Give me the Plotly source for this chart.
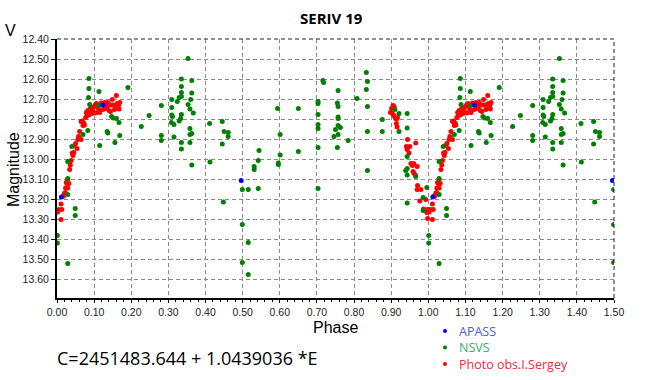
import plotly.graph_objects as go

# ---------------- data (phase in [0,1), folded copy for phase < 0.5 added below) -------------
apass_phase = [0.012, 0.124, 0.496]
apass_mag = [13.19, 12.73, 13.107]

nsvs_phase = [
    0.086, 0.086, 0.113, 0.191, 0.085, 0.088, 0.113, 0.147, 0.151, 0.160,
    0.167, 0.070, 0.083, 0.135, 0.137, 0.169, 0.156, 0.115, 0.040, 0.029,
    0.029, 0.029, 0.049, 0.049, 0.001, 0.001, 0.029, 0.227, 0.248, 0.281,
    0.281, 0.281, 0.353, 0.335, 0.363, 0.335, 0.335, 0.363, 0.309, 0.324,
    0.329, 0.335, 0.360, 0.353, 0.309, 0.358, 0.309, 0.311, 0.335, 0.367,
    0.333, 0.329, 0.308, 0.315, 0.358, 0.363, 0.358, 0.315, 0.335, 0.358,
    0.335, 0.363, 0.411, 0.445, 0.450, 0.461, 0.461, 0.445, 0.412, 0.448,
    0.499, 0.515, 0.542, 0.544, 0.542, 0.531, 0.531, 0.499, 0.515, 0.499,
    0.515, 0.594, 0.601, 0.601, 0.596, 0.596, 0.650, 0.650, 0.703, 0.703,
    0.703, 0.703, 0.703, 0.703, 0.703, 0.716, 0.718, 0.757, 0.755, 0.757,
    0.757, 0.757, 0.757, 0.763, 0.750, 0.757, 0.746, 0.755, 0.784, 0.808,
    0.833, 0.836, 0.833, 0.836, 0.836, 0.836, 0.876, 0.876, 0.910, 0.921,
    0.921, 0.943, 0.943, 0.943, 0.943, 0.939, 0.943, 0.966, 0.943, 0.986,
    0.996, 0.986,
]
nsvs_mag = [
    12.597, 12.648, 12.662, 12.642, 12.692, 12.727, 12.733, 12.788, 12.795, 12.798,
    12.817, 12.877, 12.857, 12.863, 12.870, 12.883, 12.917, 12.933, 12.937, 13.013,
    13.097, 13.177, 13.247, 13.282, 13.383, 13.420, 13.522, 12.837, 12.783, 12.732,
    12.883, 12.907, 12.497, 12.600, 12.607, 12.637, 12.667, 12.670, 12.703, 12.713,
    12.693, 12.687, 12.703, 12.727, 12.743, 12.750, 12.780, 12.787, 12.777, 12.770,
    12.797, 12.810, 12.817, 12.827, 12.847, 12.873, 12.877, 12.890, 12.917, 12.917,
    12.950, 13.030, 12.822, 12.812, 12.862, 12.868, 12.888, 12.925, 13.015, 13.215,
    13.152, 13.152, 13.148, 12.957, 13.007, 13.037, 13.053, 13.327, 13.417, 13.517,
    13.577, 12.748, 12.877, 12.980, 13.020, 13.027, 12.748, 12.962, 12.713, 12.723,
    12.778, 12.827, 12.847, 12.942, 13.148, 12.607, 12.617, 12.658, 12.720, 12.737,
    12.790, 12.798, 12.832, 12.843, 12.852, 12.878, 12.888, 12.942, 12.907, 12.698,
    12.567, 12.612, 12.652, 12.737, 12.862, 13.057, 12.803, 12.863, 12.753, 12.773,
    12.862, 12.773, 12.845, 12.987, 13.047, 13.057, 13.080, 13.087, 13.220, 13.193,
    13.143, 13.257,
]

photo_phase = [
    0.011, 0.005, 0.013, 0.011, 0.018, 0.022, 0.020, 0.016, 0.023, 0.029,
    0.032, 0.025, 0.029, 0.027, 0.034, 0.036, 0.038, 0.043, 0.045, 0.041,
    0.047, 0.050, 0.054, 0.056, 0.061, 0.065, 0.058, 0.061, 0.065, 0.068,
    0.072, 0.074, 0.070, 0.077, 0.079, 0.083, 0.085, 0.088, 0.086, 0.092,
    0.094, 0.097, 0.081, 0.090, 0.099, 0.104, 0.110, 0.103, 0.106, 0.112,
    0.115, 0.119, 0.122, 0.124, 0.128, 0.131, 0.131, 0.137, 0.140, 0.144,
    0.146, 0.149, 0.151, 0.155, 0.157, 0.160, 0.162, 0.166, 0.167, 0.169,
    0.135, 0.002,
    0.905, 0.908, 0.901, 0.898, 0.903, 0.907, 0.910, 0.914, 0.917, 0.914,
    0.916, 0.944, 0.966, 0.941, 0.944, 0.950, 0.943, 0.948, 0.953, 0.961,
    0.957, 0.970, 0.959, 0.962, 0.966, 0.971, 0.970, 0.980, 0.977, 0.993,
    0.987, 0.998, 0.996, 0.998,
]
photo_mag = [
    13.225, 13.253, 13.253, 13.302, 13.183, 13.167, 13.173, 13.187, 13.145, 13.145,
    13.123, 13.117, 13.103, 13.123, 13.053, 13.030, 13.007, 12.983, 12.967, 12.970,
    12.933, 12.923, 12.947, 12.903, 12.897, 12.903, 12.887, 12.863, 12.813, 12.810,
    12.820, 12.830, 12.833, 12.793, 12.767, 12.757, 12.773, 12.763, 12.780, 12.757,
    12.773, 12.763, 12.783, 12.747, 12.740, 12.770, 12.737, 12.730, 12.723, 12.753,
    12.767, 12.720, 12.730, 12.753, 12.717, 12.723, 12.747, 12.717, 12.757, 12.763,
    12.730, 12.703, 12.730, 12.753, 12.733, 12.683, 12.723, 12.730, 12.750, 12.717,
    12.740, 13.265,
    12.733, 12.740, 12.747, 12.767, 12.773, 12.783, 12.790, 12.800, 12.793, 12.823,
    12.840, 12.903, 12.920, 12.937, 12.943, 12.937, 12.953, 12.970, 13.023, 13.023,
    13.033, 13.037, 13.063, 13.073, 13.083, 13.133, 13.153, 13.153, 13.210, 13.203,
    13.250, 13.253, 13.267, 13.298,
]

series_names = ["APASS", "NSVS", "Photo obs.I.Sergey"]
series_marker_colors = ["#0000ff", "#008000", "#ff0000"]
series_text_colors = ["#4b5de0", "#34b061", "#ee2a3c"]

y_tick_vals = [12.4, 12.5, 12.6, 12.7, 12.8, 12.9, 13.0, 13.1, 13.2, 13.3, 13.4, 13.5, 13.6]
y_tick_text = ["%.2f" % v for v in y_tick_vals]
x_tick_vals = [i / 10 for i in range(16)]
x_tick_text = ["%.2f" % v for v in x_tick_vals]


def fold(ph, mg):
    xs = list(ph) + [p + 1 for p in ph if p < 0.5]
    ys = list(mg) + [m for p, m in zip(ph, mg) if p < 0.5]
    return xs, ys


fig = go.Figure()
data_sets = {
    "APASS": (apass_phase, apass_mag),
    "NSVS": (nsvs_phase, nsvs_mag),
    "Photo obs.I.Sergey": (photo_phase, photo_mag),
}
# draw red first, then green, then blue on top
for i in [2, 1, 0]:
    name = series_names[i]
    ph, mg = data_sets[name]
    xs, ys = fold(ph, mg)
    fig.add_trace(go.Scatter(x=xs, y=ys, mode="markers", name=name, showlegend=False,
                             marker=dict(color=series_marker_colors[i], size=5, symbol="circle",
                                         line=dict(width=0))))

W, H = 648, 380
L, R, T, B = 57, 34, 39, 82
pw, ph_ = W - L - R, H - T - B


def px(x):
    return (x - L) / pw


def py(y):
    return (H - B - y) / ph_


grid_col = "#8a8a8a"
fig.update_layout(
    width=W, height=H,
    margin=dict(l=L, r=R, t=T, b=B, pad=0, autoexpand=False),
    paper_bgcolor="white", plot_bgcolor="white",
    showlegend=False,
    font=dict(family="Liberation Sans", size=11, color="#222"),
)
fig.update_xaxes(
    range=[0, 1.5], tickvals=x_tick_vals, ticktext=x_tick_text,
    showgrid=True, gridcolor=grid_col, griddash="4px,3px", gridwidth=1,
    showline=True, linecolor="black", linewidth=2,
    ticks="outside", ticklen=3, tickcolor="black", tickwidth=1,
    tickfont=dict(family="Liberation Sans", size=10.5, color="#222"),
    minor=dict(dtick=0.02, tick0=0, ticks="outside", ticklen=2, tickcolor="black", showgrid=False),
    zeroline=False, fixedrange=True, automargin=False,
)
fig.update_yaxes(
    range=[13.695, 12.4], tickvals=y_tick_vals, ticktext=y_tick_text,
    showgrid=True, gridcolor=grid_col, griddash="4px,3px", gridwidth=1,
    showline=True, linecolor="black", linewidth=2,
    ticks="outside", ticklen=4, tickcolor="black", tickwidth=1,
    tickfont=dict(family="Liberation Sans", size=10.5, color="#222"),
    zeroline=False, fixedrange=True, automargin=False,
)
# dashed top/right frame
fig.add_shape(type="line", xref="paper", yref="paper", x0=0, x1=1, y0=1, y1=1,
              line=dict(color="#222", width=1, dash="4px,3px"))
fig.add_shape(type="line", xref="paper", yref="paper", x0=1, x1=1, y0=0, y1=1,
              line=dict(color="#222", width=1, dash="4px,3px"))

ann = [
    dict(text="<b>SERIV 19</b>", x=px(331), y=py(18), font=dict(family="Open Sans", size=15, color="black")),
    dict(text="V", x=px(11), y=py(30), font=dict(family="Liberation Sans", size=16, color="black")),
    dict(text="Magnitude", x=px(13), y=py(170), textangle=-90,
         font=dict(family="Liberation Sans", size=16, color="black")),
    dict(text="Phase", x=px(335), y=py(327), font=dict(family="Liberation Sans", size=16, color="black")),
]
for a in ann:
    fig.add_annotation(xref="paper", yref="paper", showarrow=False, xanchor="center",
                       yanchor="middle", **a)
fig.add_annotation(xref="paper", yref="paper", showarrow=False, xanchor="left", yanchor="middle",
                   text="C=2451483.644 + 1.0439036 *E", x=px(55), y=py(358),
                   font=dict(family="Open Sans", size=18, color="black"))

# manual legend (swatch + coloured text)
leg_rows = [331, 347.5, 364]
for i, yrow in enumerate(leg_rows):
    fig.add_shape(type="circle", xref="paper", yref="paper",
                  x0=px(443), x1=px(447), y0=py(yrow + 2), y1=py(yrow - 2),
                  fillcolor=series_marker_colors[i], line=dict(width=0))
    fig.add_annotation(xref="paper", yref="paper", showarrow=False, xanchor="left",
                       yanchor="middle", text=series_names[i], x=px(458), y=py(yrow),
                       borderpad=0,
                       font=dict(family="Open Sans", size=12.5, color=series_text_colors[i]))

fig.write_html("out.html", config={"displayModeBar": False},
               post_script="document.body.style.margin='0';document.body.style.overflow='hidden';")
